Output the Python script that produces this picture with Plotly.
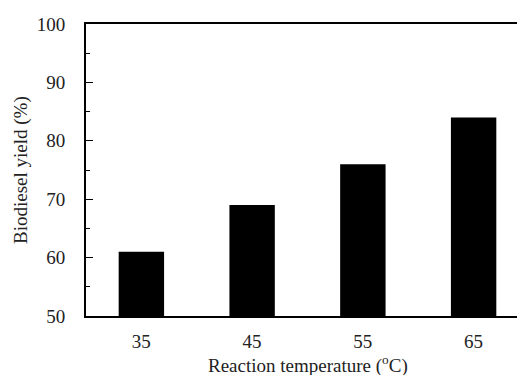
import plotly.graph_objects as go

temperatures = ["35", "45", "55", "65"]
yield_pct = [61, 69, 76, 84]
y_ticks = [50, 60, 70, 80, 90, 100]

xpos = list(range(len(temperatures)))
fig = go.Figure(go.Bar(x=xpos, y=yield_pct, width=0.41,
                       marker=dict(color="black", line=dict(color="black", width=0))))

# page body has an 8px margin; the figure is sized so it fills the rest of the window
font = dict(family="Liberation Serif", size=19, color="#222")
fig.update_layout(
    width=517, height=367,
    margin=dict(l=78, r=0, t=16, b=59, pad=0),
    plot_bgcolor="white", paper_bgcolor="white",
    showlegend=False, font=font,
    xaxis=dict(range=[-0.5, 3.464], tickvals=xpos, ticktext=temperatures,
               showline=True, linecolor="black", linewidth=2, mirror=True,
               ticks="", showgrid=False, zeroline=False, automargin=False,
               ticklabelstandoff=7),
    yaxis=dict(range=[50, 100], tickvals=y_ticks,
               showline=True, linecolor="black", linewidth=2, mirror=False,
               ticks="inside", ticklen=7, tickcolor="black", tickwidth=1,
               minor=dict(dtick=5, ticks="inside", ticklen=4, tickcolor="black", tickwidth=1),
               showgrid=False, zeroline=False, automargin=False, ticklabelstandoff=15),
    annotations=[
        dict(text="Reaction temperature (<sup>o</sup>C)", xref="paper", yref="paper",
             x=(307.5 - 86) / (525 - 86), y=-(364 - 316) / (316 - 24),
             xanchor="center", yanchor="middle", showarrow=False, font=font),
        dict(text="Biodiesel yield (%)", xref="paper", yref="paper",
             x=-(86 - 21) / (525 - 86), y=0.5, textangle=-90,
             xanchor="center", yanchor="middle", showarrow=False, font=font),
    ],
)
fig.write_html("out.html")
